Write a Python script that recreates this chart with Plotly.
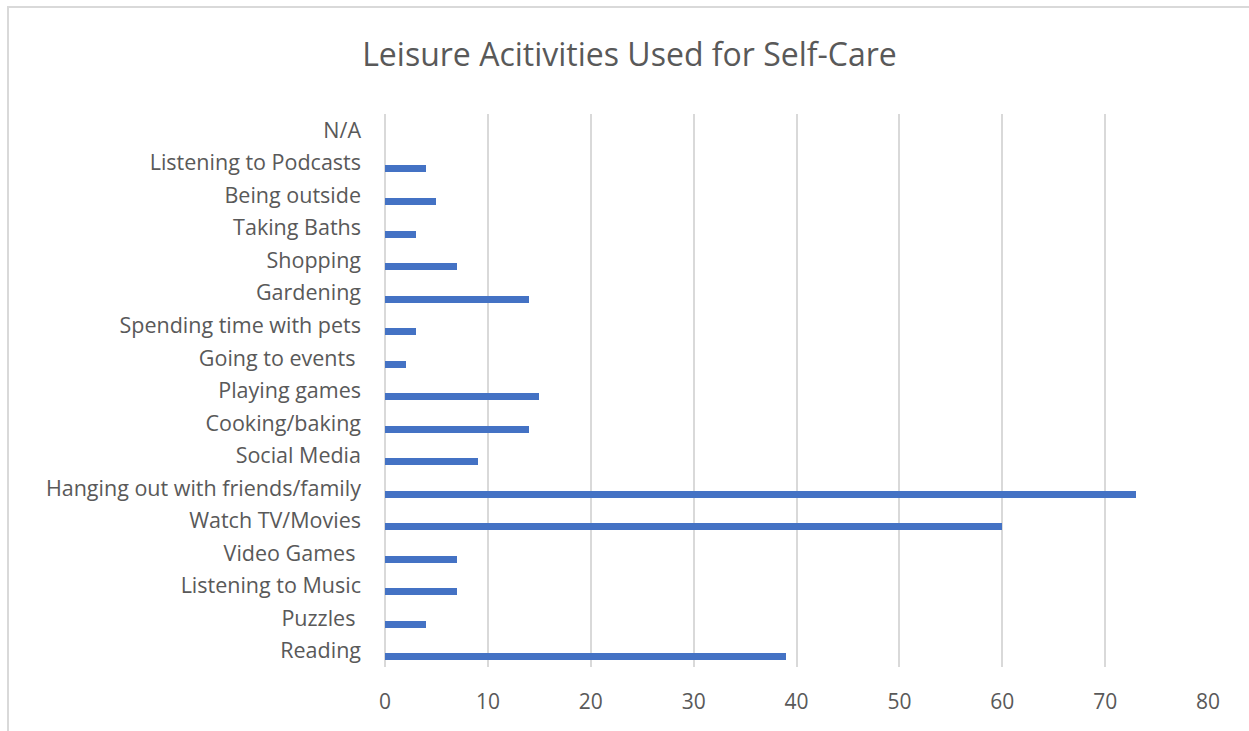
import plotly.graph_objects as go

# Activities listed bottom-to-top (first entry sits at the bottom of the axis)
activities = [
    "Reading",
    "Puzzles ",
    "Listening to Music",
    "Video Games ",
    "Watch TV/Movies",
    "Hanging out with friends/family",
    "Social Media",
    "Cooking/baking",
    "Playing games",
    "Going to events ",
    "Spending time with pets",
    "Gardening",
    "Shopping",
    "Taking Baths",
    "Being outside",
    "Listening to Podcasts",
    "N/A",
]
responses = [39, 4, 7, 7, 60, 73, 9, 14, 15, 2, 3, 14, 7, 3, 5, 4, 0]

x_ticks = [0, 10, 20, 30, 40, 50, 60, 70, 80]

TEXT = "#595959"
GRID = "#d9d9d9"
FONT = "'Open Sans', Lato, sans-serif"

W, H = 1249, 731
L, R, T, B = 385, 41, 114, 64

fig = go.Figure()
fig.add_trace(go.Bar(
    y=activities,
    x=responses,
    orientation="h",
    marker=dict(color="#4472C4", line=dict(width=0)),
    width=0.215,
    offset=-0.2975,
    hoverinfo="x+y",
))

# trailing spaces kept visible with non-breaking spaces
tick_text = [a.rstrip() + "\u00a0" * (len(a) - len(a.rstrip())) for a in activities]

fig.update_layout(
    width=W, height=H,
    margin=dict(l=L, r=R, t=T, b=B),
    paper_bgcolor="white",
    plot_bgcolor="white",
    showlegend=False,
    bargap=0,
    title=dict(
        text="Leisure Acitivities Used for Self-Care",
        x=629.5 / W, xref="container", xanchor="center",
        y=1 - 55 / H, yref="container", yanchor="middle",
        font=dict(family=FONT, size=32, color=TEXT),
    ),
    xaxis=dict(
        range=[0, 80],
        tickvals=x_ticks,
        ticktext=[str(v) for v in x_ticks],
        showgrid=True, gridcolor=GRID, gridwidth=2,
        zeroline=True, zerolinecolor=GRID, zerolinewidth=2,
        showline=False,
        ticks="",
        ticklabelstandoff=20,
        tickfont=dict(family=FONT, size=21, color=TEXT),
        fixedrange=True,
    ),
    yaxis=dict(
        type="category",
        categoryorder="array", categoryarray=activities,
        tickvals=activities, ticktext=tick_text,
        range=[-0.5, len(activities) - 0.5],
        showgrid=False, zeroline=False,
        showline=False,
        ticks="",
        ticklabelstandoff=23,
        tickfont=dict(family=FONT, size=21.5, color=TEXT),
        fixedrange=True,
    ),
    shapes=[
        # chart border (extends past the right and bottom edges of the page)
        dict(type="rect", xref="paper", yref="paper",
             x0=(8 - L) / (W - L - R), x1=(W + 20 - L) / (W - L - R),
             y0=-(B + 20) / (H - T - B), y1=(H - B - 7) / (H - T - B),
             line=dict(color=GRID, width=2), fillcolor="rgba(0,0,0,0)",
             layer="below"),
    ],
)

fig.write_html("out.html")
